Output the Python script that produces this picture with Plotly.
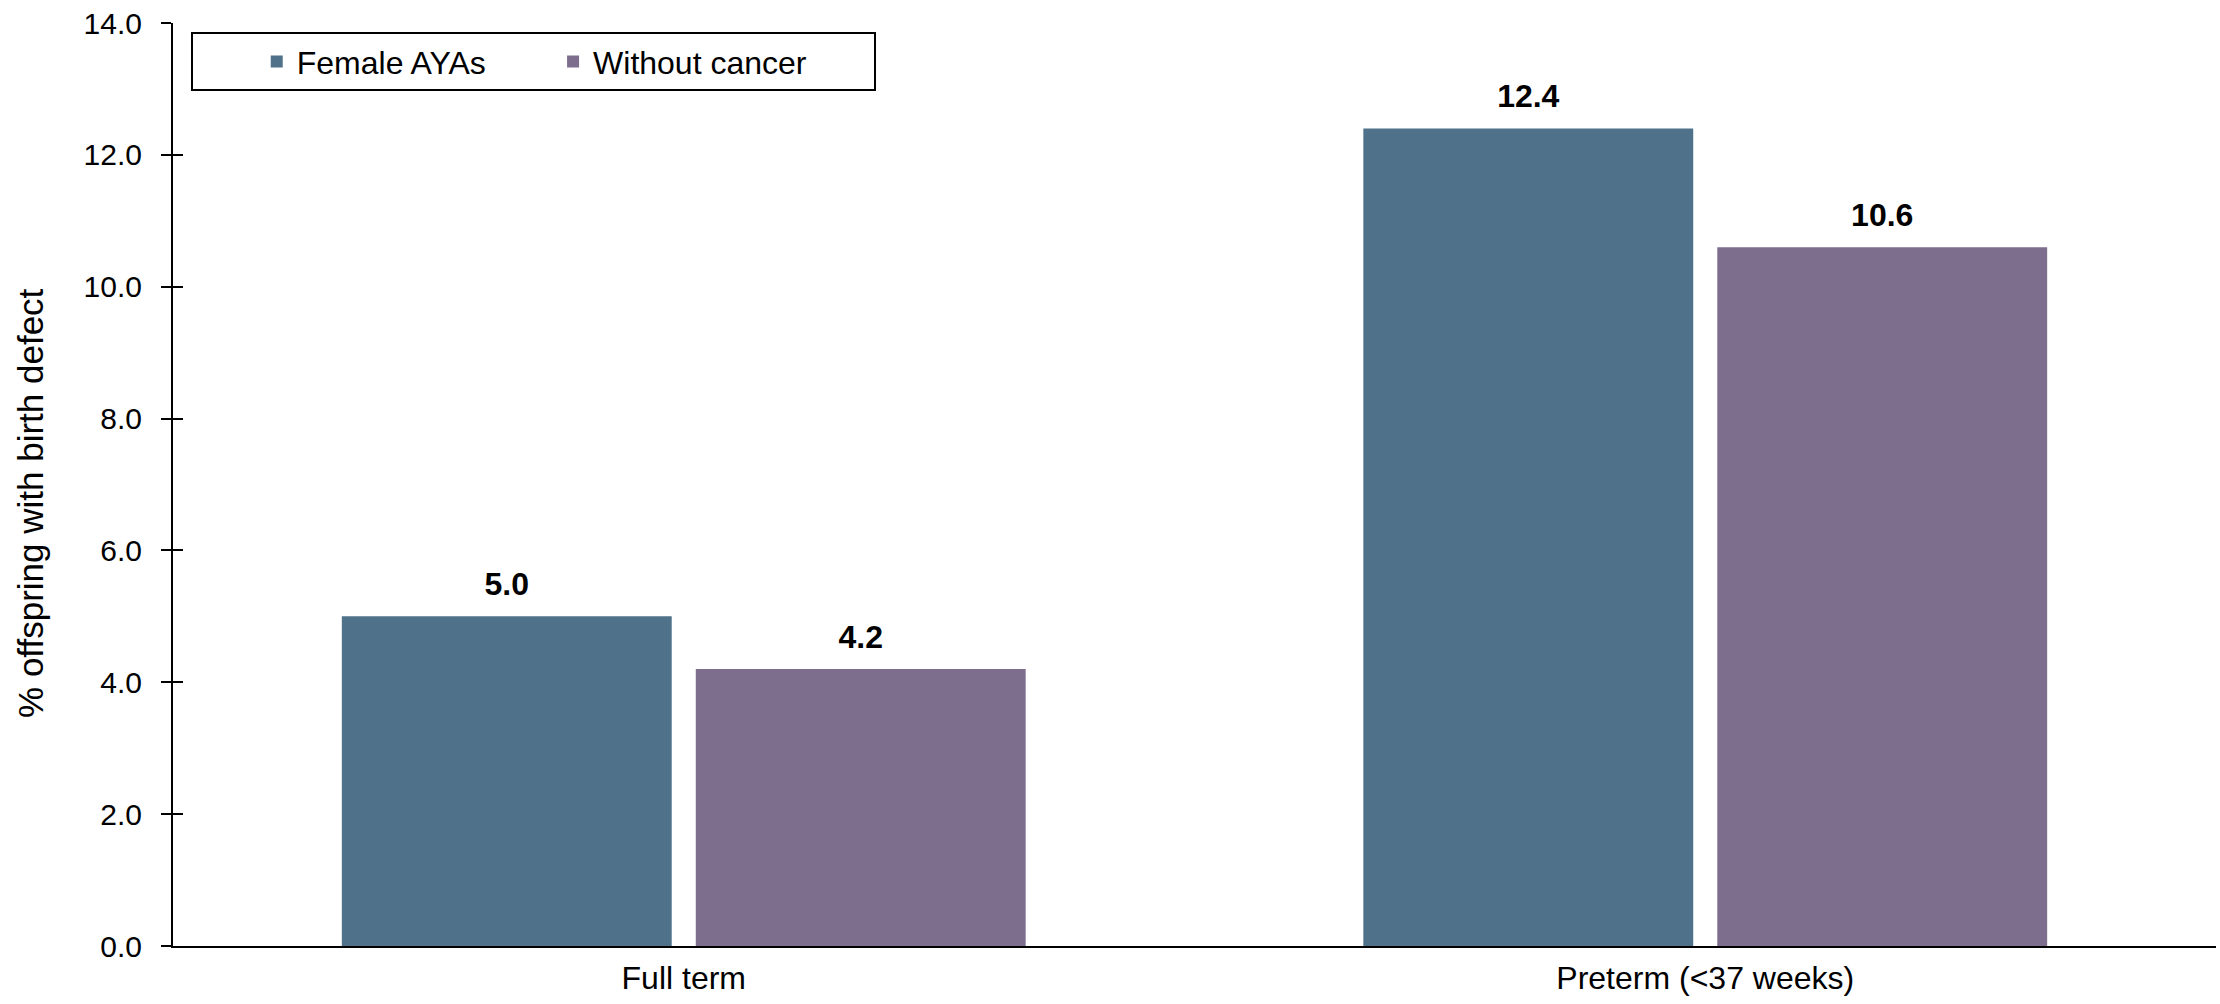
import plotly.graph_objects as go

categories = ["Full term", "Preterm (<37 weeks)"]
series_names = ["Female AYAs", "Without cancer"]
female_ayas = [5.0, 12.4]
without_cancer = [4.2, 10.6]
y_tick_values = [0, 2, 4, 6, 8, 10, 12, 14]
y_title = "% offspring with birth defect"

colors = ["#4F728A", "#7D6E8E"]
FONT = "Liberation Sans, Arial, sans-serif"
NBSP = "\u00a0"
legend_pad = [7, 7]

fig = go.Figure()
for name, vals, col, pad in zip(series_names, [female_ayas, without_cancer], colors, legend_pad):
    fig.add_trace(go.Bar(
        x=categories, y=vals, name=name + NBSP * pad, offsetgroup=name,
        marker=dict(color=col, line=dict(width=0)),
    ))
for name, vals in zip(series_names, [female_ayas, without_cancer]):
    fig.add_trace(go.Scatter(
        x=categories, y=vals, mode="markers+text", offsetgroup=name,
        text=[f"{v:.1f}" for v in vals], textposition="top center",
        texttemplate="<b>%{text}</b>",
        textfont=dict(family=FONT, size=32, color="black"),
        marker=dict(size=20, opacity=0), showlegend=False, hoverinfo="skip",
    ))
fig.add_trace(go.Scatter(x=[categories[0]], y=[0], yaxis="y2", mode="markers",
                         marker=dict(opacity=0), showlegend=False, hoverinfo="skip"))

fig.update_layout(
    width=2220, height=1004,
    margin=dict(l=173, r=4, t=23, b=58),
    paper_bgcolor="white", plot_bgcolor="white",
    barmode="group", bargap=0.307, bargroupgap=0.068,
    scattermode="group", scattergap=0.307,
    font=dict(family=FONT, size=30, color="black"),
    showlegend=True,
    legend=dict(
        orientation="h", x=0.009, y=0.99, xanchor="left", yanchor="top",
        bordercolor="black", borderwidth=2, bgcolor="white",
        font=dict(family=FONT, size=32, color="black"),
        title=dict(text=NBSP * 6, side="left", font=dict(size=32)),
    ),
    xaxis=dict(
        showline=True, linecolor="black", linewidth=2, ticks="",
        showgrid=False, tickfont=dict(size=32), ticklabelstandoff=3,
    ),
    yaxis=dict(
        range=[0, 14], tickvals=y_tick_values, tickformat=".1f",
        showline=True, linecolor="black", linewidth=2,
        ticks="outside", ticklen=10, tickwidth=2, tickcolor="black",
        ticklabelstandoff=13,
        showgrid=False, zeroline=False, tickfont=dict(size=30),
        automargin=False,
    ),
    yaxis2=dict(
        range=[0, 14], tickvals=y_tick_values, overlaying="y", side="left",
        ticks="inside", ticklen=10, tickwidth=2, tickcolor="black",
        showticklabels=False, showgrid=False, zeroline=False, showline=False,
    ),
    annotations=[dict(
        text=y_title, xref="paper", yref="paper", x=0, y=0.48,
        xanchor="center", yanchor="middle", xshift=-142, textangle=-90,
        showarrow=False, font=dict(family=FONT, size=35, color="black"),
    )],
)

fig.write_html("out.html")
